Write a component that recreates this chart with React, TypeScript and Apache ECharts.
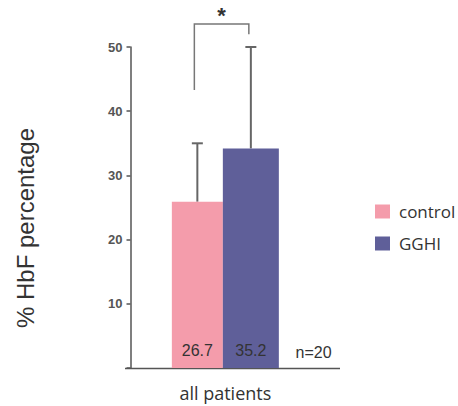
import React, { useEffect, useRef } from "react";
import * as echarts from "echarts";

const categories = ["all patients"];
const seriesNames = ["control", "GGHI"];
const barValues = [25.9, 34.2];
const barLabels = ["26.7", "35.2"];
const errorHigh = [35, 50];
const colors = ["#F49CAB", "#5F5F99"];
const yTicks = [0, 10, 20, 30, 40, 50];
const bracket = { leftBottom: 43.3, top: 53.6, rightBottom: 52, star: 55.6 };
const nText = "n=20";
const yTitle = "% HbF percentage";

const barWidths = [51, 56];

export default function App() {
  const ref = useRef<HTMLDivElement>(null);
  useEffect(() => {
    if (!ref.current) return;
    const chart = echarts.init(ref.current, null, { renderer: "svg" });
    const total = barWidths[0] + barWidths[1];
    const offsets = [-total / 2 + barWidths[0] / 2, -total / 2 + barWidths[0] + barWidths[1] / 2];
    const option: any = {
      animation: false,
      backgroundColor: "#ffffff",
      grid: { left: 130.5, width: 189.7, top: 47, bottom: 38 },
      legend: {
        data: seriesNames,
        orient: "vertical",
        left: 370,
        top: 198,
        itemWidth: 15,
        itemHeight: 14,
        itemGap: 15,
        icon: "rect",
        textStyle: { fontSize: 17, color: "#333", fontFamily: "Open Sans", padding: [0, 0, 0, 4] },
      },
      xAxis: {
        type: "category",
        data: categories,
        axisLine: { show: false },
        axisTick: { show: false },
        axisLabel: { fontSize: 18, color: "#333", fontFamily: "Open Sans", margin: 16 },
      },
      yAxis: {
        type: "value",
        min: yTicks[0],
        max: yTicks[yTicks.length - 1],
        interval: 10,
        axisLine: { show: true, lineStyle: { color: "#555", width: 1.5 } },
        axisTick: { show: true, length: 4, lineStyle: { color: "#555", width: 1.5 } },
        splitLine: { show: false },
        axisLabel: {
          fontSize: 13,
          fontWeight: "bold",
          color: "#555",
          fontFamily: "Arial",
          margin: 8,
          formatter: (v: number) => (v === 0 ? "" : String(v)),
        },
      },
      series: [
        ...seriesNames.map((name, i) => ({
          name,
          type: "bar",
          barWidth: barWidths[i],
          barGap: "0%",
          data: [barValues[i]],
          itemStyle: { color: colors[i] },
          label: {
            show: true,
            position: "insideBottom",
            distance: 10,
            formatter: () => barLabels[i],
            fontSize: 16,
            color: "#333",
            fontFamily: "Arial",
          },
          z: 2,
        })),
        {
          name: "err",
          type: "custom",
          clip: false,
          z: 1,
          data: seriesNames.map((_, i) => [0, barValues[i], errorHigh[i], i]),
          encode: { x: 0, y: [1, 2] },
          renderItem: (params: any, api: any) => {
            const idx = api.value(3);
            const b = api.coord([api.value(0), api.value(1)]);
            const t = api.coord([api.value(0), api.value(2)]);
            const x = b[0] + offsets[idx];
            const st = { stroke: "#666", lineWidth: 2 };
            return {
              type: "group",
              children: [
                { type: "line", shape: { x1: x, y1: b[1], x2: x, y2: t[1] }, style: st },
                { type: "line", shape: { x1: x - 5.5, y1: t[1], x2: x + 5.5, y2: t[1] }, style: st },
              ],
            };
          },
        },
        {
          name: "sig",
          type: "custom",
          clip: false,
          z: 1,
          data: [[0, bracket.leftBottom, bracket.top, bracket.rightBottom, bracket.star]],
          encode: { x: 0, y: [1, 2] },
          renderItem: (params: any, api: any) => {
            const lb = api.coord([0, api.value(1)]);
            const tp = api.coord([0, api.value(2)]);
            const rb = api.coord([0, api.value(3)]);
            const sp = api.coord([0, api.value(4)]);
            const xl = lb[0] + offsets[0] - 3;
            const xr = lb[0] + offsets[1] - 2;
            const st = { stroke: "#777", lineWidth: 1.5, fill: "none" };
            return {
              type: "group",
              children: [
                {
                  type: "polyline",
                  shape: { points: [[xl, lb[1]], [xl, tp[1]], [xr, tp[1]], [xr, rb[1]]] },
                  style: st,
                },
                {
                  type: "text",
                  style: {
                    text: "*",
                    x: (xl + xr) / 2,
                    y: sp[1] + 4,
                    align: "center",
                    verticalAlign: "middle",
                    fontSize: 22,
                    fontWeight: "bold",
                    fontFamily: "Arial",
                    fill: "#333",
                  },
                },
              ],
            };
          },
        },
      ],
      graphic: [
        {
          type: "line",
          shape: { x1: 125, y1: 368.5, x2: 340, y2: 368.5 },
          style: { stroke: "#555", lineWidth: 1.5 },
        },
        {
          type: "text",
          x: 313.5,
          y: 352,
          style: {
            text: nText,
            align: "center",
            verticalAlign: "middle",
            fontSize: 16,
            fontFamily: "Arial",
            fill: "#333",
          },
        },
        {
          type: "text",
          x: 25.5,
          y: 228,
          rotation: Math.PI / 2,
          style: {
            text: yTitle,
            align: "center",
            verticalAlign: "middle",
            fontSize: 24,
            fontFamily: "Arial",
            fill: "#333",
          },
        },
      ],
    };
    chart.setOption(option);
    return () => chart.dispose();
  }, []);
  return (
    <div
      ref={ref}
      style={{ position: "absolute", left: 0, top: 0, width: 458, height: 406 }}
    />
  );
}
